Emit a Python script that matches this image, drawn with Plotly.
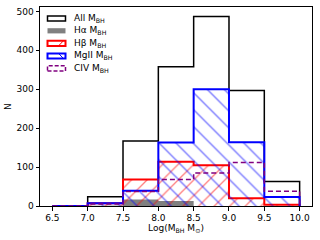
import plotly.graph_objects as go

# ---- data ----
bin_edges = [6.5, 7.0, 7.5, 8.0, 8.5, 9.0, 9.5, 10.0]
all_counts = [0, 24, 167, 358, 487, 297, 63]
halpha_counts = [0, 1, 17, 13, 0, 0, 0]
hbeta_counts = [0, 7, 68, 114, 105, 20, 3]
mgii_counts = [0, 7, 39, 163, 300, 164, 23]
civ_counts = [0, 5, 37, 68, 85, 112, 38]
series_labels = ["All M<sub>BH</sub>", "Hα M<sub>BH</sub>", "Hβ M<sub>BH</sub>",
                 "MgII M<sub>BH</sub>", "CIV M<sub>BH</sub>"]
x_ticks = [6.5, 7.0, 7.5, 8.0, 8.5, 9.0, 9.5, 10.0]
y_ticks = [0, 100, 200, 300, 400, 500]

FONT = "DejaVu Sans"
W, H = 320, 240
ML, MR, MT, MB = 40, 8, 7, 34
PW, PH = W - ML - MR, H - MT - MB
CLEAR = "rgba(0,0,0,0)"


def step_outline(edges, counts):
    xs, ys = [edges[0]], [0]
    for i, c in enumerate(counts):
        xs += [edges[i], edges[i + 1]]
        ys += [c, c]
    xs.append(edges[-1])
    ys.append(0)
    return xs, ys


fig = go.Figure()

# All (black outline)
x, y = step_outline(bin_edges, all_counts)
fig.add_trace(go.Scatter(x=x, y=y, mode="lines", line=dict(color="black", width=1.5),
                         showlegend=False, hoverinfo="skip"))
# Halpha (gray filled)
x, y = step_outline(bin_edges, halpha_counts)
fig.add_trace(go.Scatter(x=x, y=y, mode="lines", fill="toself", fillcolor="#808080",
                         line=dict(color="#808080", width=0), showlegend=False, hoverinfo="skip"))
# Hbeta (red hatched)
x, y = step_outline(bin_edges, hbeta_counts)
fig.add_trace(go.Scatter(x=x, y=y, mode="lines", fill="toself", fillcolor=CLEAR,
                         fillpattern=dict(shape="/", fgcolor="red", bgcolor=CLEAR,
                                          size=11, solidity=0.12),
                         line=dict(color="red", width=2), showlegend=False, hoverinfo="skip"))
# MgII (blue hatched)
x, y = step_outline(bin_edges, mgii_counts)
fig.add_trace(go.Scatter(x=x, y=y, mode="lines", fill="toself", fillcolor=CLEAR,
                         fillpattern=dict(shape="\\", fgcolor="blue", bgcolor=CLEAR,
                                          size=12, solidity=0.12),
                         line=dict(color="blue", width=2), showlegend=False, hoverinfo="skip"))
# CIV (purple dashed)
x, y = step_outline(bin_edges, civ_counts)
fig.add_trace(go.Scatter(x=x, y=y, mode="lines",
                         line=dict(color="purple", width=1.5, dash="5px,3px"),
                         showlegend=False, hoverinfo="skip"))

# ---- manual legend (matplotlib-like) ----
def px2paper(px, py):
    return (px - ML) / PW, (H - MB - py) / PH


row_centers = [18.5, 30.8, 43.3, 56.0, 68.3]
styles = [
    dict(line=dict(color="black", width=1.5), fillcolor=CLEAR),
    dict(line=dict(color="#808080", width=0), fillcolor="#808080"),
    dict(line=dict(color="red", width=2), fillcolor=CLEAR),
    dict(line=dict(color="blue", width=2), fillcolor=CLEAR),
    dict(line=dict(color="purple", width=1.5, dash="4px,2px"), fillcolor=CLEAR),
]
bx0, bx1 = 47.5, 65.5
for i, (cy, st, lab) in enumerate(zip(row_centers, styles, series_labels)):
    x0, y0 = px2paper(bx0, cy + 2.6)
    x1, y1 = px2paper(bx1, cy - 2.6)
    fig.add_shape(type="rect", xref="paper", yref="paper", x0=x0, x1=x1, y0=y0, y1=y1,
                  layer="above", **st)
    if i in (2, 3):
        col = "red" if i == 2 else "blue"
        if i == 2:
            a0, b0 = px2paper(bx1 - 7, cy + 2.6)
            a1, b1 = px2paper(bx1 - 2, cy - 2.6)
        else:
            a0, b0 = px2paper(bx1 - 7, cy - 2.6)
            a1, b1 = px2paper(bx1 - 2, cy + 2.6)
        fig.add_shape(type="line", xref="paper", yref="paper", x0=a0, y0=b0, x1=a1, y1=b1,
                      line=dict(color=col, width=1), layer="above")
    tx, ty = px2paper(71.5, cy)
    fig.add_annotation(x=tx, y=ty, xref="paper", yref="paper", text=lab, showarrow=False,
                       xanchor="left", yanchor="middle",
                       font=dict(family=FONT, size=9, color="black"))

fig.update_layout(
    width=W, height=H,
    margin=dict(l=ML, r=MR, t=MT, b=MB),
    plot_bgcolor="white", paper_bgcolor="white",
    font=dict(family=FONT, size=9, color="black"),
    showlegend=False,
)
fig.update_xaxes(range=[6.325, 10.175], tickvals=x_ticks,
                 ticktext=[f"{v:.1f}" for v in x_ticks],
                 tickfont=dict(family=FONT, size=9, color="black"),
                 showgrid=False, zeroline=False, showline=True, mirror=True,
                 linecolor="black", linewidth=1, ticks="outside", ticklen=3.5,
                 tickwidth=0.8, tickcolor="black",
                 title=dict(text="Log(M<sub>BH</sub> M<sub>⊙</sub>)",
                            font=dict(family=FONT, size=9), standoff=2))
fig.update_yaxes(range=[0, 511.35], tickvals=y_ticks,
                 ticktext=[str(v) for v in y_ticks],
                 tickfont=dict(family=FONT, size=9, color="black"),
                 showgrid=False, zeroline=False, showline=True, mirror=True,
                 linecolor="black", linewidth=1, ticks="outside", ticklen=3.5,
                 tickwidth=0.8, tickcolor="black",
                 title=dict(text="N", font=dict(family=FONT, size=9), standoff=3))

fig.write_html("out.html", config={"displayModeBar": False},
               post_script="document.body.style.margin='0';document.body.style.padding='0';")
